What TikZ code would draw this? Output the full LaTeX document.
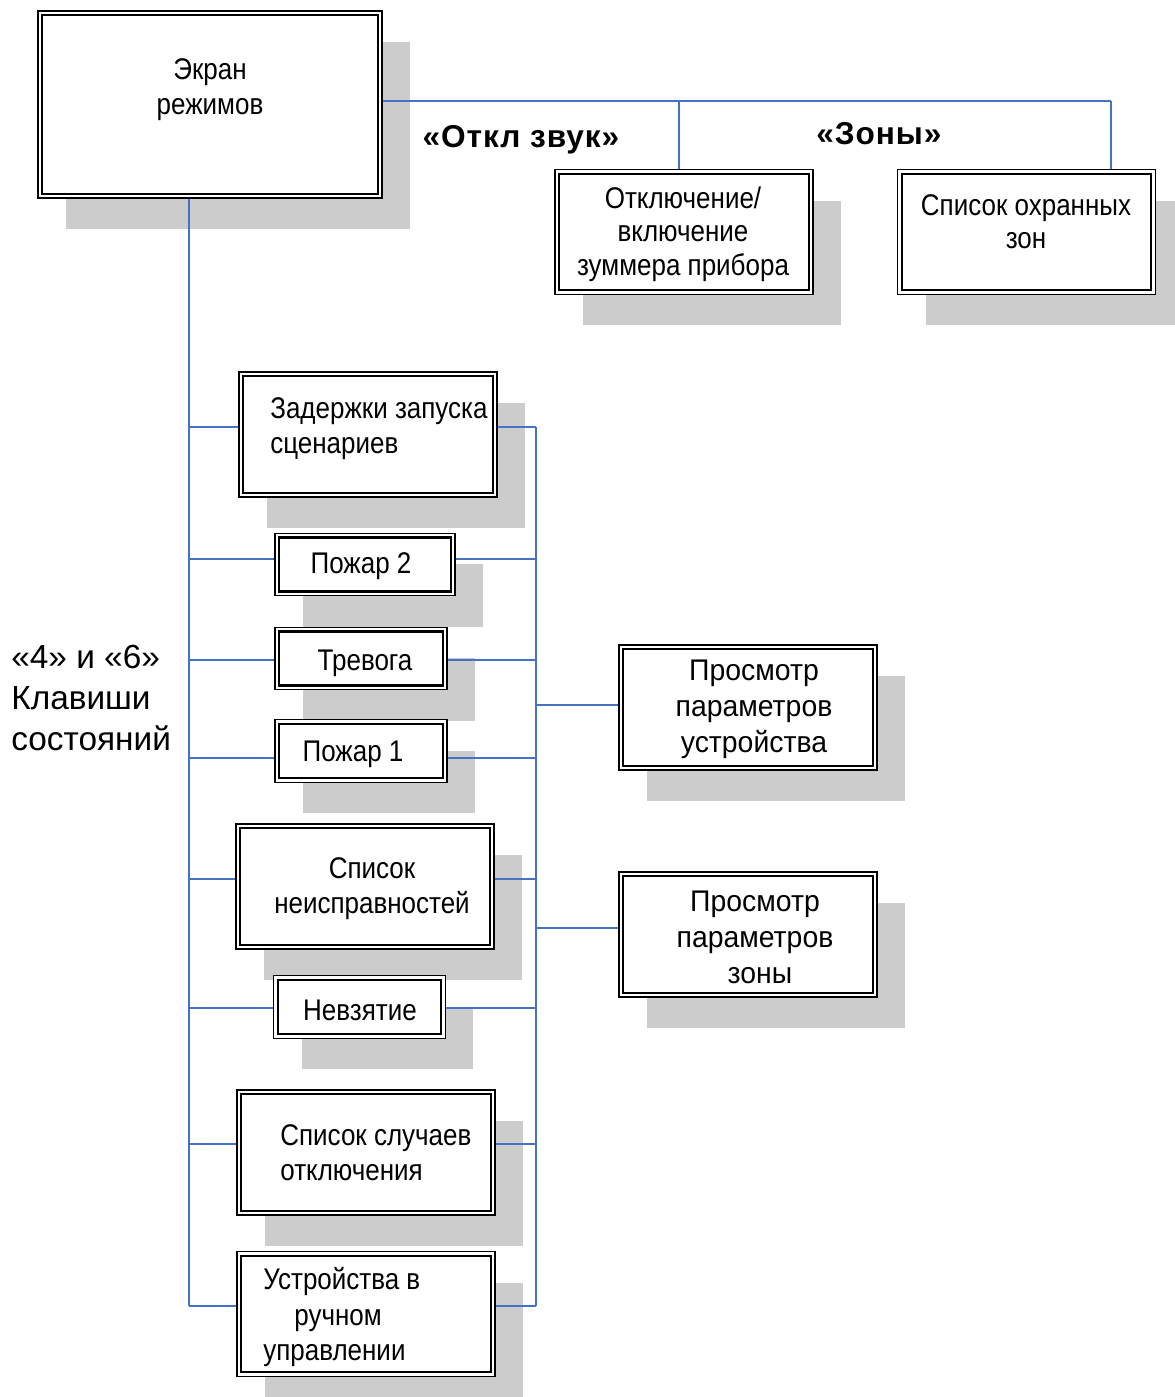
\documentclass[tikz,border=0pt]{standalone}
\usepackage{fontspec}
\setmainfont{Liberation Sans}
\newfontfamily\boxfont{Liberation Sans}[FakeStretch=0.87]
\newfontfamily\viewfont{Liberation Sans}[FakeStretch=0.95]
\newfontfamily\titlefont{Liberation Sans}[LetterSpace=3]
\usepackage{xcolor}
\definecolor{LinkBlue}{HTML}{4472C4}
\definecolor{ShadowGray}{HTML}{CCCCCC}
\usetikzlibrary{shadows, calc}

\begin{document}
\begin{tikzpicture}[
  x=0.02cm, y=-0.02cm,
  link/.style={
    draw=LinkBlue,
    line width=0.9pt},
  dbox/.style={
    rectangle,
    draw=black,
    line width=0.7pt,
    fill=white,
    inner sep=0pt,
    drop shadow={shadow xshift=0.56cm,
                 shadow yshift=-0.62cm,
                 fill=ShadowGray,
                 opacity=1},
    path picture={
      \draw[line width=1.3pt]
        ($(path picture bounding box.south west)+(2.4pt,2.4pt)$) rectangle
        ($(path picture bounding box.north east)+(-2.4pt,-2.4pt)$);}},
  bigbox/.style={dbox, minimum width=5.16cm, minimum height=2.5cm},
  smallbox/.style={dbox, minimum width=#1, minimum height=1.25cm},
  smallbox/.default=3.44cm,
  boxtext/.style={
    font=\boxfont\fontsize{17}{20}\selectfont,
    align=center,
    inner sep=0pt},
  viewtext/.style={
    boxtext,
    font=\viewfont\fontsize{17}{20.5}\selectfont},
  keylabel/.style={
    font=\titlefont\bfseries\fontsize{18}{22}\selectfont,
    inner sep=0pt},
]
\useasboundingbox (0,0) rectangle (1174,1397);

% boxes
\node[dbox, minimum width=6.88cm, minimum height=3.74cm] (scr) at (210,104.5) {};
\node[bigbox] (buz) at (684,232) {};
\node[bigbox] (zon) at (1026.5,232) {};

\node[bigbox]           (del) at (368,434.5) {};
\node[smallbox=3.6cm]   (f2)  at (365,564.5) {};
\node[smallbox]         (alr) at (361,658.5) {};
\node[smallbox]         (f1)  at (361,751)   {};
\node[bigbox]           (flt) at (365,886.5) {};
\node[smallbox]         (nvz) at (359.5,1007) {};
\node[bigbox]           (dis) at (366,1152.5) {};
\node[bigbox]           (man) at (366,1314)  {};

\node[bigbox] (dev) at (748,707.5) {};
\node[bigbox] (zpr) at (748,934.5) {};

% box texts
\node[boxtext] (scrtxt) at (210,90) {Экран\\режимов};
\node[boxtext, font=\boxfont\fontsize{17}{19}\selectfont] (buztxt) at (683,234)
  {Отключение/\\включение\\зуммера прибора};
\node[boxtext, font=\boxfont\fontsize{17}{19}\selectfont] (zontxt) at (1026,222)
  {Список охранных\\зон};
\node[boxtext, align=left, anchor=west] (deltxt) at (270,429)
  {Задержки запуска\\сценариев};
\node[boxtext] (f2txt)  at (361,566)  {Пожар 2};
\node[boxtext] (alrtxt) at (365,663)  {Тревога};
\node[boxtext] (f1txt)  at (353,754)  {Пожар 1};
\node[boxtext] (flttxt) at (372,889)  {Список\\неисправностей};
\node[boxtext] (nvztxt) at (360,1010) {Невзятие};
\node[boxtext, align=left, anchor=west] (distxt) at (280,1153)
  {Список случаев\\отключения};
\node[boxtext, align=left, anchor=west] (mantxt) at (263,1317)
  {Устройства в\\\hspace*{0.62cm}ручном\\управлении};
\node[viewtext] (devtxt) at (754,709) {Просмотр\\параметров\\устройства};
\node[viewtext] (zprtxt) at (755,937) {Просмотр\\параметров\\\hspace*{0.2cm}зоны};

% key labels
\node[keylabel] (sndkey) at (521,140) {«Откл звук»};
\node[keylabel] (zonkey) at (879,134) {«Зоны»};
\node[align=left, anchor=west, inner sep=0pt,
      font=\fontsize{19}{23.5}\selectfont] (stkey) at (11,698)
  {«4» и «6»\\Клавиши\\состояний};

% buses
\coordinate (topmid) at (679,101);
\coordinate (topend) at (1111,101);
\coordinate (lbus) at (189,1306);
\coordinate (rtop) at (536,427);
\coordinate (rbus) at (536,1306);

\draw[link] (scr.east |- topmid) -- (topend);
\draw[link] (topmid) -- (topmid |- buz.north);
\draw[link] (topend) -- (topend |- zon.north);

\draw[link] (lbus |- scr.south) -- (lbus);
\draw[link] (rtop) -- (rbus);

\foreach \n/\y in {del/427, f2/559, alr/660, f1/758, flt/879, nvz/1008, dis/1144, man/1306}{
  \draw[link] (lbus |- 0,\y) -- (\n.west |- 0,\y);
  \draw[link] (\n.east |- 0,\y) -- (rbus |- 0,\y);
}

\draw[link] (rbus |- 0,705) -- (dev.west |- 0,705);
\draw[link] (rbus |- 0,928) -- (zpr.west |- 0,928);

\end{tikzpicture}
\end{document}
